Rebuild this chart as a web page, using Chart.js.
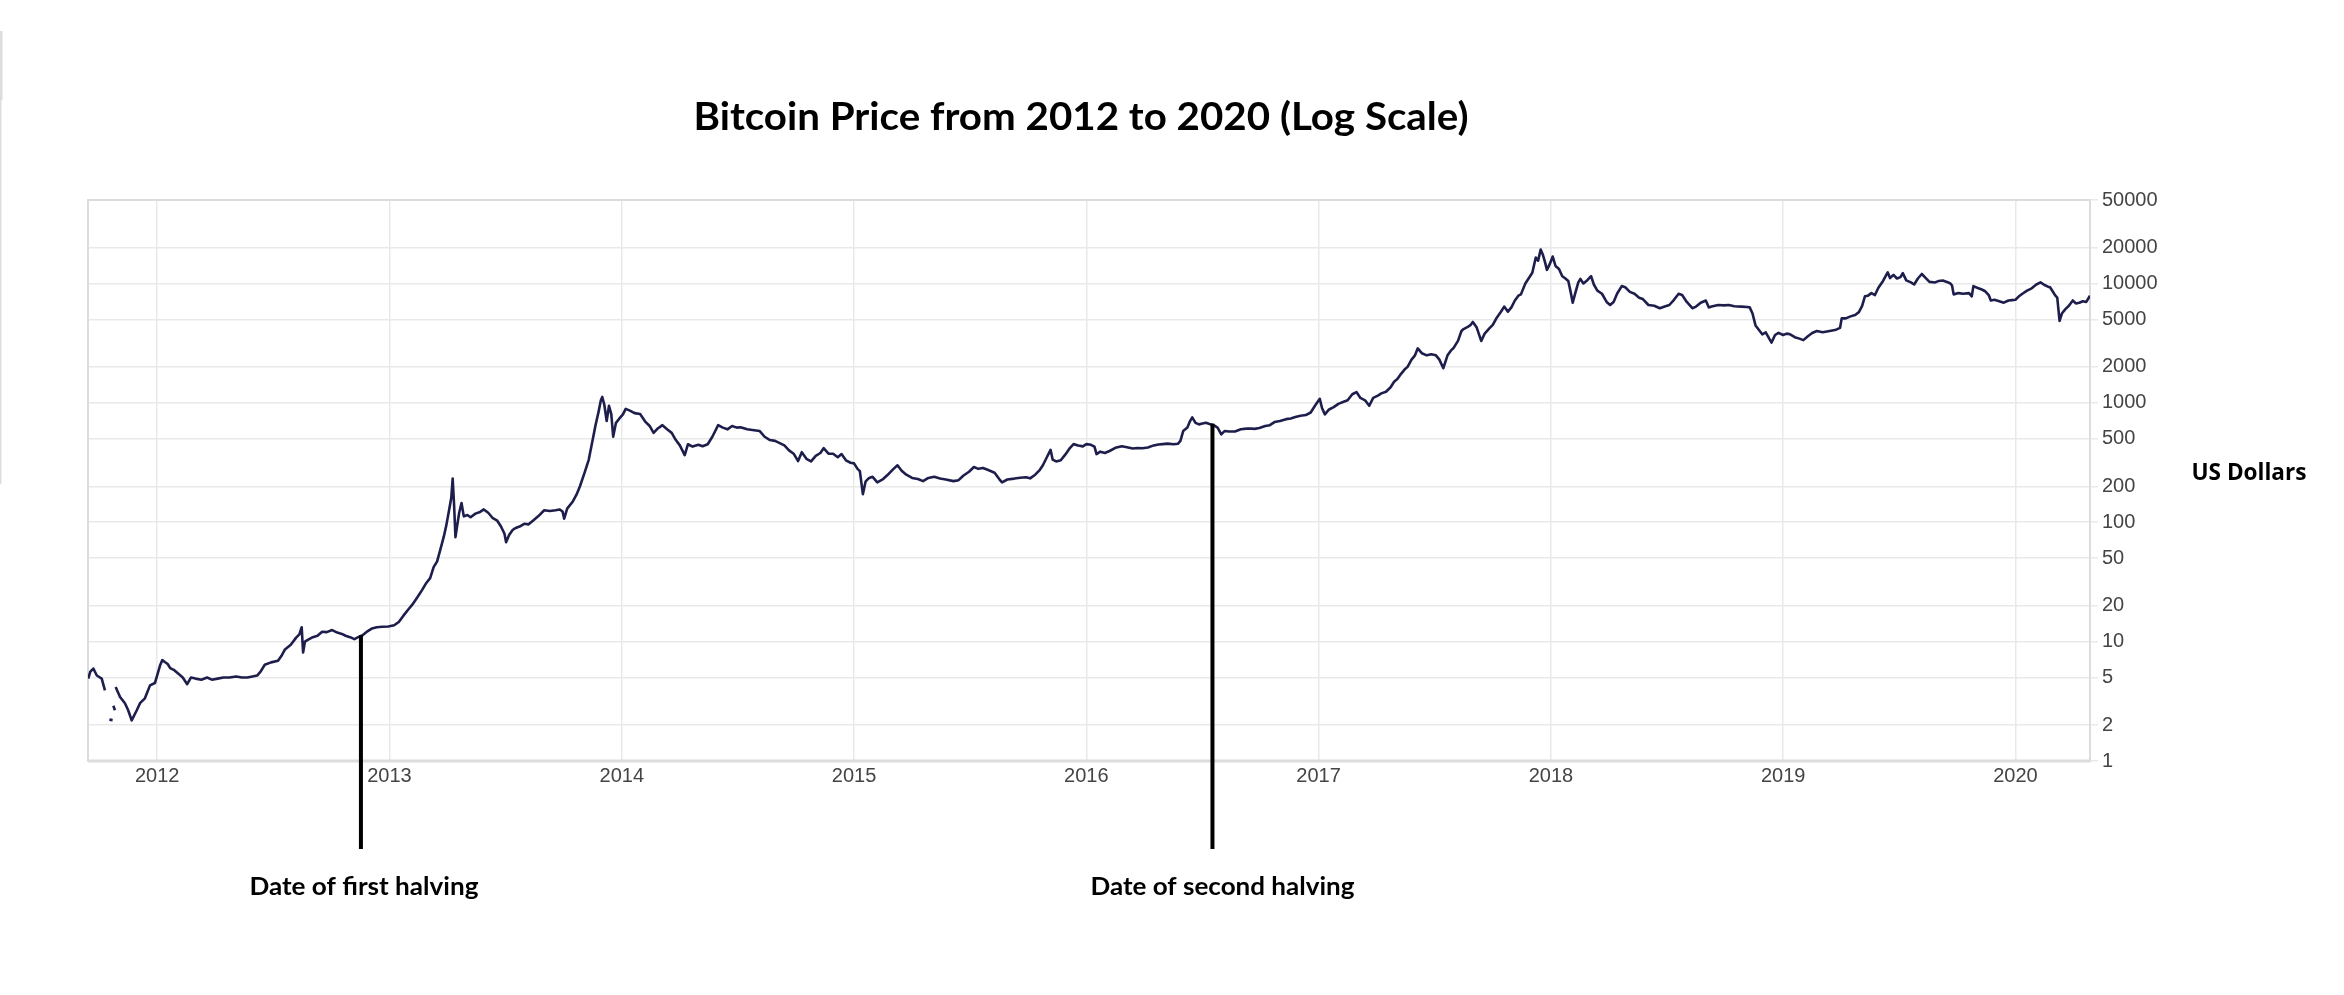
<!DOCTYPE html>
<html>
<head>
<meta charset="utf-8">
<script src="https://cdn.jsdelivr.net/npm/chart.js@4.4.1/dist/chart.umd.min.js"></script>
<style>
  html, body { margin: 0; padding: 0; background: #ffffff; overflow: hidden; }
  canvas { display: block; }
</style>
</head>
<body>
<canvas id="chart" width="2344" height="995"></canvas>
<script>
// ---------- texts ----------
const titleText = 'Bitcoin Price from 2012 to 2020 (Log Scale)';
const yAxisLabel = 'US Dollars';
const halvingLabels = ['Date of first halving', 'Date of second halving'];

// ---------- axes ----------
const yearTicks = [2012, 2013, 2014, 2015, 2016, 2017, 2018, 2019, 2020];
const priceTicks = [1, 2, 5, 10, 20, 50, 100, 200, 500, 1000, 2000, 5000, 10000, 20000, 50000];
const xRange = [2011.702, 2020.321];
const yRange = [1, 50000];

// ---------- halvings (decimal year, price where the marker meets the line) ----------
const halvingDates = [2012.877, 2016.543];
const halvingPrices = [11.3, 670];

// ---------- series: decimal year and USD price (null = gap in the record) ----------
const t2011 = [2011.703, 2011.712, 2011.725, 2011.740, 2011.761, 2011.775, 2011.785, 2011.794, 2011.808, 2011.810, 2011.811, 2011.818, 2011.819, 2011.821, 2011.840, 2011.861, 2011.875, 2011.890, 2011.912, 2011.926, 2011.947, 2011.969, 2011.990];
const p2011 = [4.9, 5.6, 5.95, 5.2, 4.9, 3.9, null, 2.22, 2.2, null, 2.9, 2.66, null, 4.17, 3.44, 3.05, 2.66, 2.19, 2.66, 3.05, 3.35, 4.3, 4.5];

const t2012 = [2012.012, 2012.022, 2012.033, 2012.045, 2012.056, 2012.071, 2012.090, 2012.110, 2012.129, 2012.145, 2012.165, 2012.190, 2012.215, 2012.235, 2012.260, 2012.285, 2012.311, 2012.340, 2012.365, 2012.388, 2012.410, 2012.430, 2012.445, 2012.463, 2012.490, 2012.520, 2012.535, 2012.550, 2012.575, 2012.598, 2012.612, 2012.622, 2012.628, 2012.636, 2012.650, 2012.670, 2012.690, 2012.710, 2012.730, 2012.753, 2012.775, 2012.795, 2012.811, 2012.830, 2012.849, 2012.865, 2012.884, 2012.905, 2012.925, 2012.945, 2012.970, 2012.995];
const p2012 = [6.3, 7.0, 6.75, 6.5, 6.0, 5.8, 5.4, 5.0, 4.4, 5.0, 4.9, 4.8, 5.0, 4.8, 4.9, 5.0, 5.0, 5.1, 5.0, 5.0, 5.1, 5.2, 5.6, 6.4, 6.7, 6.9, 7.6, 8.6, 9.4, 10.8, 11.5, 13.2, 8.1, 10.0, 10.4, 10.9, 11.2, 12.1, 12.0, 12.5, 11.9, 11.6, 11.2, 10.9, 10.5, 10.9, 11.3, 12.2, 12.9, 13.2, 13.3, 13.4];

const t2013 = [2013.020, 2013.040, 2013.060, 2013.080, 2013.099, 2013.120, 2013.140, 2013.156, 2013.175, 2013.190, 2013.205, 2013.220, 2013.234, 2013.245, 2013.257, 2013.266, 2013.272, 2013.278, 2013.284, 2013.290, 2013.300, 2013.310, 2013.320, 2013.335, 2013.349, 2013.370, 2013.390, 2013.406, 2013.425, 2013.445, 2013.464, 2013.480, 2013.495, 2013.502, 2013.515, 2013.530, 2013.541, 2013.560, 2013.580, 2013.599, 2013.620, 2013.640, 2013.666, 2013.690, 2013.715, 2013.733, 2013.745, 2013.752, 2013.765, 2013.790, 2013.805, 2013.820, 2013.840, 2013.858, 2013.872, 2013.887, 2013.900, 2013.910, 2013.916, 2013.925, 2013.935, 2013.945, 2013.955, 2013.963, 2013.975, 2013.990];
const p2013 = [13.7, 14.6, 16.5, 18.5, 20.5, 23.5, 27, 30.5, 34, 42, 47, 60, 76, 95, 128, 160, 232, 140, 75, 90, 120, 145, 112, 115, 110, 118, 122, 128, 120, 108, 103, 92, 80, 68, 78, 86, 89, 92, 97, 96, 104, 112, 126, 124, 126, 128, 123, 107, 130, 150, 170, 200, 260, 335, 460, 650, 840, 1050, 1120, 960, 705, 945, 800, 520, 680, 740];

const t2014 = [2014.005, 2014.017, 2014.035, 2014.055, 2014.079, 2014.100, 2014.120, 2014.137, 2014.155, 2014.175, 2014.195, 2014.215, 2014.232, 2014.250, 2014.271, 2014.285, 2014.305, 2014.330, 2014.348, 2014.370, 2014.390, 2014.415, 2014.435, 2014.455, 2014.475, 2014.495, 2014.511, 2014.540, 2014.570, 2014.594, 2014.615, 2014.638, 2014.660, 2014.680, 2014.700, 2014.720, 2014.740, 2014.759, 2014.775, 2014.795, 2014.815, 2014.835, 2014.855, 2014.869, 2014.890, 2014.910, 2014.930, 2014.946, 2014.965, 2014.985];
const p2014 = [800, 890, 860, 820, 805, 700, 640, 560, 610, 650, 600, 560, 490, 440, 365, 450, 430, 445, 433, 450, 520, 650, 620, 600, 640, 620, 625, 600, 590, 580, 520, 488, 480, 460, 440, 400, 375, 325, 386, 340, 323, 360, 380, 417, 375, 375, 350, 372, 330, 315];

const t2015 = [2015.000, 2015.015, 2015.025, 2015.038, 2015.050, 2015.065, 2015.080, 2015.100, 2015.125, 2015.150, 2015.170, 2015.187, 2015.205, 2015.225, 2015.250, 2015.275, 2015.297, 2015.320, 2015.345, 2015.370, 2015.395, 2015.428, 2015.450, 2015.470, 2015.495, 2015.516, 2015.535, 2015.555, 2015.575, 2015.605, 2015.625, 2015.637, 2015.660, 2015.690, 2015.715, 2015.740, 2015.758, 2015.780, 2015.800, 2015.813, 2015.830, 2015.846, 2015.855, 2015.870, 2015.890, 2015.910, 2015.930, 2015.945, 2015.965, 2015.985];
const p2015 = [311, 280, 268, 172, 220, 235, 240, 216, 230, 255, 280, 300, 270, 250, 235, 230, 221, 235, 240, 232, 228, 221, 225, 245, 265, 290, 280, 285, 275, 260, 230, 216, 228, 232, 236, 238, 233, 250, 275, 300, 350, 404, 335, 323, 330, 370, 420, 451, 440, 432];

const t2016 = [2016.000, 2016.020, 2016.035, 2016.044, 2016.060, 2016.080, 2016.100, 2016.125, 2016.153, 2016.175, 2016.200, 2016.220, 2016.241, 2016.265, 2016.290, 2016.310, 2016.329, 2016.350, 2016.375, 2016.395, 2016.405, 2016.417, 2016.435, 2016.446, 2016.456, 2016.470, 2016.485, 2016.500, 2016.515, 2016.530, 2016.548, 2016.565, 2016.581, 2016.595, 2016.615, 2016.640, 2016.665, 2016.690, 2016.710, 2016.724, 2016.745, 2016.770, 2016.790, 2016.810, 2016.834, 2016.860, 2016.880, 2016.900, 2016.922, 2016.945, 2016.966, 2016.985];
const p2016 = [451, 445, 430, 372, 390, 380, 395, 420, 433, 425, 415, 418, 417, 422, 440, 448, 451, 455, 450, 455, 480, 580, 620, 700, 755, 680, 660, 670, 680, 665, 650, 620, 545, 580, 575, 575, 600, 608, 610, 605, 615, 640, 650, 690, 705, 730, 740, 760, 780, 790, 830, 950];

const t2017 = [2017.005, 2017.015, 2017.027, 2017.045, 2017.065, 2017.085, 2017.105, 2017.125, 2017.145, 2017.163, 2017.180, 2017.200, 2017.218, 2017.235, 2017.255, 2017.270, 2017.290, 2017.310, 2017.325, 2017.339, 2017.355, 2017.370, 2017.383, 2017.400, 2017.415, 2017.427, 2017.445, 2017.465, 2017.485, 2017.505, 2017.520, 2017.537, 2017.555, 2017.570, 2017.580, 2017.600, 2017.615, 2017.624, 2017.640, 2017.655, 2017.664, 2017.680, 2017.700, 2017.715, 2017.735, 2017.750, 2017.767, 2017.785, 2017.799, 2017.815, 2017.830, 2017.845, 2017.860, 2017.871, 2017.890, 2017.920, 2017.935, 2017.945, 2017.956, 2017.965, 2017.975, 2017.983, 2017.995];
const p2017 = [1080, 900, 800, 880, 920, 980, 1015, 1050, 1180, 1230, 1100, 1050, 945, 1100, 1150, 1200, 1240, 1350, 1500, 1580, 1750, 1900, 2000, 2300, 2500, 2860, 2600, 2500, 2550, 2500, 2300, 1950, 2500, 2750, 2860, 3300, 4000, 4150, 4300, 4500, 4760, 4300, 3300, 3800, 4200, 4500, 5170, 5800, 6400, 5800, 6300, 7200, 7900, 8100, 10000, 12300, 16500, 15500, 19200, 17500, 15000, 13000, 14500];

const t2018 = [2018.008, 2018.020, 2018.035, 2018.049, 2018.060, 2018.075, 2018.085, 2018.094, 2018.105, 2018.118, 2018.127, 2018.140, 2018.158, 2018.173, 2018.185, 2018.200, 2018.220, 2018.240, 2018.255, 2018.270, 2018.285, 2018.305, 2018.320, 2018.340, 2018.360, 2018.380, 2018.396, 2018.420, 2018.445, 2018.469, 2018.490, 2018.510, 2018.530, 2018.550, 2018.565, 2018.585, 2018.609, 2018.625, 2018.645, 2018.667, 2018.680, 2018.692, 2018.720, 2018.745, 2018.766, 2018.790, 2018.820, 2018.845, 2018.856, 2018.868, 2018.881, 2018.895, 2018.910, 2018.925, 2018.940, 2018.950, 2018.965, 2018.980];
const p2018 = [16800, 14000, 13200, 11500, 11100, 10500, 8500, 6900, 8300, 10200, 10900, 10000, 10700, 11500, 9800, 8700, 8200, 7000, 6600, 7000, 8200, 9500, 9300, 8500, 8200, 7600, 7400, 6600, 6500, 6200, 6400, 6600, 7300, 8200, 8000, 7000, 6200, 6400, 6900, 7200, 6300, 6400, 6600, 6550, 6600, 6450, 6400, 6350, 6300, 5600, 4450, 4100, 3750, 3900, 3450, 3200, 3700, 3860];

const t2019 = [2019.000, 2019.015, 2019.030, 2019.050, 2019.070, 2019.087, 2019.105, 2019.125, 2019.145, 2019.170, 2019.200, 2019.228, 2019.245, 2019.252, 2019.270, 2019.290, 2019.310, 2019.326, 2019.340, 2019.352, 2019.365, 2019.380, 2019.395, 2019.410, 2019.430, 2019.450, 2019.460, 2019.475, 2019.490, 2019.505, 2019.515, 2019.530, 2019.550, 2019.564, 2019.580, 2019.597, 2019.612, 2019.630, 2019.655, 2019.670, 2019.687, 2019.705, 2019.720, 2019.727, 2019.734, 2019.755, 2019.775, 2019.800, 2019.812, 2019.819, 2019.835, 2019.855, 2019.870, 2019.885, 2019.894, 2019.910, 2019.930, 2019.950, 2019.970, 2019.985];
const p2019 = [3700, 3800, 3750, 3550, 3450, 3350, 3600, 3850, 4000, 3900, 4000, 4100, 4250, 5100, 5100, 5300, 5450, 5750, 6500, 7800, 7900, 8300, 8000, 9200, 10500, 12400, 11100, 11800, 11000, 11300, 12200, 10600, 10200, 9800, 11000, 12000, 11200, 10300, 10200, 10500, 10600, 10300, 10000, 9600, 8100, 8300, 8200, 8300, 7800, 9500, 9200, 8900, 8600, 8000, 7200, 7300, 7100, 6900, 7200, 7250];

const t2020 = [2020.000, 2020.015, 2020.030, 2020.050, 2020.070, 2020.090, 2020.108, 2020.125, 2020.140, 2020.149, 2020.160, 2020.172, 2020.180, 2020.190, 2020.200, 2020.215, 2020.230, 2020.247, 2020.260, 2020.275, 2020.290, 2020.305, 2020.321];
const p2020 = [7300, 7800, 8200, 8700, 9100, 9800, 10200, 9700, 9400, 9300, 8600, 7900, 7600, 4850, 5600, 6100, 6500, 7200, 6800, 6900, 7100, 7000, 7900];

// ---------- build ----------
const dates = [].concat(t2011, t2012, t2013, t2014, t2015, t2016, t2017, t2018, t2019, t2020);
const prices = [].concat(p2011, p2012, p2013, p2014, p2015, p2016, p2017, p2018, p2019, p2020);
if (dates.length !== prices.length) console.error('length mismatch', dates.length, prices.length);
const points = dates.map((d, i) => ({ x: d, y: prices[i] }));

const tickFont = { family: '"Liberation Sans", Arial, sans-serif', size: 20 };
const tickColor = '#444444';
const gridColor = '#e9e9e9';
const frameColor = '#dcdcdc';

function drawFitted(ctx, text, cx, baseline, width) {
  const m = ctx.measureText(text).width;
  ctx.save();
  ctx.translate(cx, baseline);
  ctx.scale(width / m, 1);
  ctx.textAlign = 'center';
  ctx.textBaseline = 'alphabetic';
  ctx.fillText(text, 0, 0);
  ctx.restore();
}

const decorations = {
  id: 'decorations',
  beforeDatasetsDraw(chart) {
    const { ctx, chartArea: a } = chart;
    ctx.save();
    ctx.strokeStyle = frameColor;
    ctx.lineWidth = 2;
    ctx.strokeRect(a.left, a.top, a.right - a.left, a.bottom - a.top);
    ctx.lineWidth = 3;
    ctx.beginPath();
    ctx.moveTo(a.left, a.bottom);
    ctx.lineTo(a.right, a.bottom);
    ctx.stroke();
    ctx.restore();
  },
  afterDraw(chart) {
    const { ctx, chartArea: a, scales } = chart;
    const xs = scales.x, ys = scales.y;
    ctx.save();
    ctx.fillStyle = '#000000';

    // title
    ctx.font = 'bold 39px Lato, "Open Sans", sans-serif';
    drawFitted(ctx, titleText, 1081, 130, 775);

    // halving markers and labels
    const labelShift = [3, 10];
    const labelWidth = [229, 264];
    halvingDates.forEach((d, i) => {
      const px = xs.getPixelForValue(d);
      const py = ys.getPixelForValue(halvingPrices[i]);
      ctx.fillStyle = '#000000';
      ctx.fillRect(px - 2, py, 4, a.bottom + 88 - py);
      ctx.font = 'bold 25px Lato, "Open Sans", sans-serif';
      drawFitted(ctx, halvingLabels[i], px + labelShift[i], a.bottom + 134, labelWidth[i]);
    });

    // y axis label
    ctx.font = 'bold 24px "Open Sans", Lato, sans-serif';
    drawFitted(ctx, yAxisLabel, 2249, 480, 115);

    // faint edge line at the far left of the picture
    ctx.fillStyle = '#dddddd';
    ctx.fillRect(0, 31, 1.5, 453);
    ctx.fillRect(0, 31, 2.5, 69);
    ctx.restore();
  }
};

new Chart(document.getElementById('chart'), {
  type: 'line',
  data: {
    datasets: [{
      data: points,
      borderColor: '#1e1e4d',
      borderWidth: 2.6,
      pointRadius: 0,
      tension: 0,
      spanGaps: false,
      borderJoinStyle: 'round'
    }]
  },
  options: {
    responsive: false,
    animation: false,
    events: [],
    layout: { padding: { left: 88, top: 200, right: 144, bottom: 194 } },
    plugins: { legend: { display: false }, tooltip: { enabled: false }, title: { display: false } },
    scales: {
      x: {
        type: 'linear',
        min: xRange[0],
        max: xRange[1],
        afterBuildTicks: (axis) => { axis.ticks = yearTicks.map(v => ({ value: v })); },
        afterFit: (axis) => { axis.height = 40; },
        ticks: { callback: (v) => String(v), font: tickFont, color: tickColor, padding: 3, maxRotation: 0, autoSkip: false },
        grid: { color: gridColor, lineWidth: 1.5, drawTicks: false },
        border: { display: false }
      },
      y: {
        type: 'logarithmic',
        position: 'right',
        min: yRange[0],
        max: yRange[1],
        afterBuildTicks: (axis) => { axis.ticks = priceTicks.map(v => ({ value: v })); },
        afterFit: (axis) => { axis.width = 110; },
        ticks: { callback: (v) => String(v), font: tickFont, color: tickColor, padding: 4, autoSkip: false },
        grid: { color: gridColor, lineWidth: 1.5, drawTicks: true, tickLength: 8 },
        border: { display: false }
      }
    }
  },
  plugins: [decorations]
});
</script>
</body>
</html>
